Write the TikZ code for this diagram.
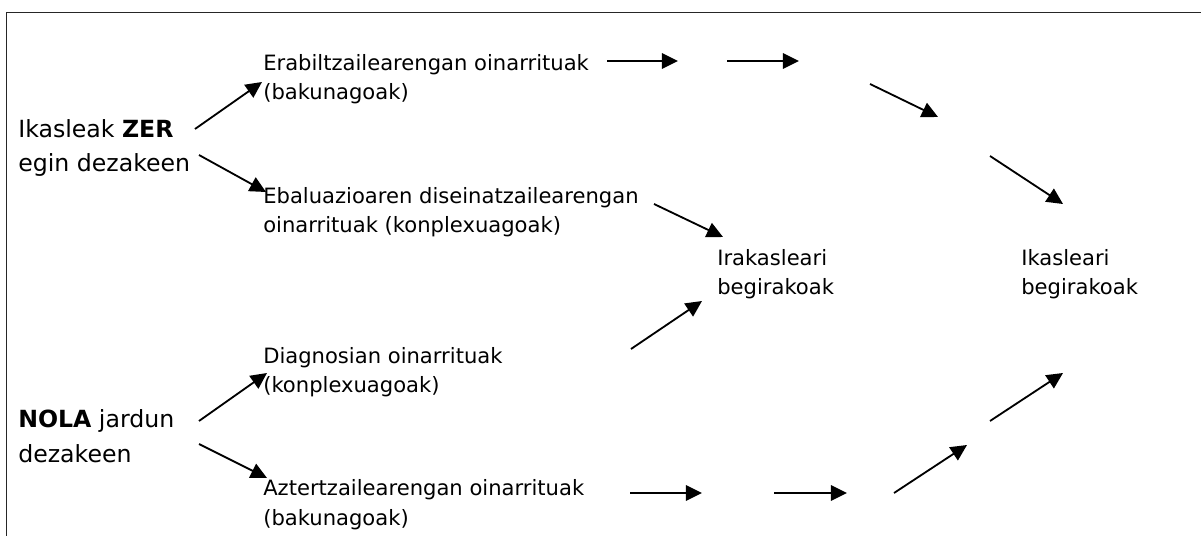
\documentclass[tikz,border=0pt]{standalone}
\usepackage{fontspec}
\setmainfont{DejaVu Sans}
\usetikzlibrary{arrows.meta}

\begin{document}
\begin{tikzpicture}[x=0.025cm, y=-0.025cm]
        \tikzstyle{big}=[anchor=base west,align=left,inner sep=0pt,font=\fontsize{16.8}{24.6}\selectfont]
        \tikzstyle{small}=[anchor=base west,align=left,inner sep=0pt,font=\fontsize{15}{21.3}\selectfont]
        \tikzstyle{arr}=[-{Triangle[length=11.5pt,width=11pt]},line width=1.3pt]
        \tikzstyle{frame}=[line width=1.4pt,black!85]

        \useasboundingbox (0,0) rectangle (1201,536);
        \draw[frame] (6.5,536) -- (6.5,12.5) -- (1201,12.5);

        \node[big] (zer) at (18,172)  {Ikasleak \textbf{ZER}\\egin dezakeen};
        \node[big] (nola) at (18,462)  {\textbf{NOLA} jardun\\dezakeen};
        \node[small] (erab) at (263,100)  {Erabiltzailearengan oinarrituak\\(bakunagoak)};
        \node[small] (ebal) at (263,233)  {Ebaluazioaren diseinatzailearengan\\oinarrituak (konplexuagoak)};
        \node[small] (diag) at (263,393)  {Diagnosian oinarrituak\\(konplexuagoak)};
        \node[small] (azt) at (263,525)  {Aztertzailearengan oinarrituak\\(bakunagoak)};
        \node[small] (irak) at (717,295)  {Irakasleari\\begirakoak};
        \node[small] (ikas) at (1021,295)  {Ikasleari\\begirakoak};

        \coordinate (zer-up) at (195,129);   \coordinate (erab-in) at (262,82);
        \coordinate (zer-dn) at (199,155);   \coordinate (ebal-in) at (266,192);
        \coordinate (nola-up) at (199,421);  \coordinate (diag-in) at (267,373);
        \coordinate (nola-dn) at (199,444);  \coordinate (azt-in) at (267,478);
        \coordinate (erab-out) at (607,61);  \coordinate (t1) at (678,61);
        \coordinate (t1b) at (727,61);       \coordinate (t2) at (799,61);
        \coordinate (t2b) at (870,84);       \coordinate (t3) at (938,117);
        \coordinate (t3b) at (990,156);      \coordinate (ikas-top) at (1063,204);
        \coordinate (ebal-out) at (654,204); \coordinate (irak-top) at (723,237);
        \coordinate (diag-out) at (631,349); \coordinate (irak-bot) at (702,301);
        \coordinate (azt-out) at (630,493);  \coordinate (b1) at (702,493);
        \coordinate (b1b) at (774,493);      \coordinate (b2) at (847,493);
        \coordinate (b2b) at (894,493);      \coordinate (b3) at (967,445);
        \coordinate (b3b) at (990,421);      \coordinate (ikas-bot) at (1063,373);

        \draw[arr] (zer-up) -- (erab-in);
        \draw[arr] (zer-dn) -- (ebal-in);
        \draw[arr] (nola-up) -- (diag-in);
        \draw[arr] (nola-dn) -- (azt-in);
        \draw[arr] (erab-out) -- (t1);
        \draw[arr] (t1b) -- (t2);
        \draw[arr] (t2b) -- (t3);
        \draw[arr] (t3b) -- (ikas-top);
        \draw[arr] (ebal-out) -- (irak-top);
        \draw[arr] (diag-out) -- (irak-bot);
        \draw[arr] (azt-out) -- (b1);
        \draw[arr] (b1b) -- (b2);
        \draw[arr] (b2b) -- (b3);
        \draw[arr] (b3b) -- (ikas-bot);
\end{tikzpicture}
\end{document}
